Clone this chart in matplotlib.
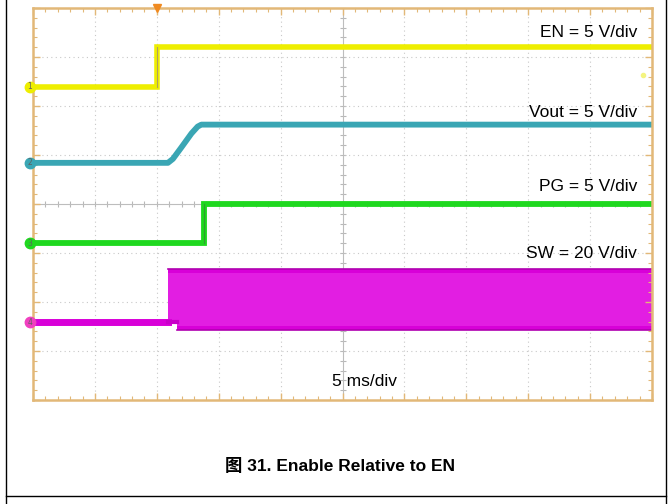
import matplotlib.pyplot as plt
from matplotlib.lines import Line2D
from matplotlib.ticker import MultipleLocator

# time axis in ms (5 ms/div, trigger at t = 0), vertical axis in divisions
t_min, t_max = -10, 40
ms_per_div = 5

# EN channel (5 V/div)
en_t = [-10, 0, 0, 40]
en_v = [0, 0, 4.1, 4.1]
en_offset = 6.39

# Vout channel (5 V/div)
vout_t = [-10, 0.9, 1.3, 2.0, 2.8, 3.3, 3.6, 40]
vout_v = [0, 0, 0.4, 1.6, 3.0, 3.7, 3.9, 3.9]
vout_offset = 4.84

# PG channel (5 V/div)
pg_t = [-10, 3.8, 3.8, 40]
pg_v = [0, 0, 4.0, 4.0]
pg_offset = 3.2

# SW channel (20 V/div), switching envelope
sw_t = [-10, 0.9, 0.9, 1.6, 1.6, 40]
sw_top = [0, 0, 21.6, 21.6, 21.6, 21.6]
sw_bot = [0, 0, 0, 0, -3.2, -3.2]
sw_offset = 1.59

trig_t = 0
trig_level = 1.2  # V on EN

labels = ["EN = 5 V/div", "Vout = 5 V/div", "PG = 5 V/div", "SW = 20 V/div"]
label_y = [7.49, 5.86, 4.35, 3.0]

yellow = '#eeee00'
teal = '#3aa6b4'
green = '#1fd81f'
magenta = '#d800d8'
tan = '#e2b878'

fig = plt.figure(figsize=(6.7, 5.04), dpi=100)
pos = [33 / 670, 104 / 504, 619 / 670, 392 / 504]

# center crosshair ticks (behind the traces)
ax2 = fig.add_axes(pos)
ax2.set_zorder(0)
ax2.set_xlim(t_min, t_max)
ax2.set_ylim(0, 8)
ax2.spines['top'].set_visible(False)
ax2.spines['right'].set_visible(False)
ax2.spines['left'].set_position(('axes', 0.5))
ax2.spines['bottom'].set_position(('axes', 0.5))
ax2.spines['left'].set_visible(False)
ax2.spines['bottom'].set_visible(False)
ax2.xaxis.set_major_locator(MultipleLocator(ms_per_div))
ax2.xaxis.set_minor_locator(MultipleLocator(ms_per_div / 5))
ax2.yaxis.set_major_locator(MultipleLocator(1))
ax2.yaxis.set_minor_locator(MultipleLocator(0.2))
ax2.tick_params(which='both', direction='inout', color='#b8b8b8', length=4, width=0.8,
                labelbottom=False, labelleft=False)

ax = fig.add_axes(pos)
ax.set_zorder(1)
ax.patch.set_alpha(0)
ax.set_xlim(t_min, t_max)
ax.set_ylim(0, 8)

# graticule
for k in range(1, 10):
    if k != 5:
        ax.axvline(t_min + k * ms_per_div, color='#c8c8c8', lw=0.8, ls=(0, (1, 3)), zorder=0)
for k in range(1, 8):
    if k != 4:
        ax.axhline(k, color='#c8c8c8', lw=0.8, ls=(0, (1, 3)), zorder=0)
ax.axvline(t_min + 5 * ms_per_div, color='#bdbdbd', lw=0.8, zorder=0)
ax.axhline(4, color='#bdbdbd', lw=0.8, zorder=0)

ax.xaxis.set_major_locator(MultipleLocator(ms_per_div))
ax.xaxis.set_minor_locator(MultipleLocator(ms_per_div / 5))
ax.yaxis.set_major_locator(MultipleLocator(1))
ax.yaxis.set_minor_locator(MultipleLocator(0.2))
ax.tick_params(which='both', direction='in', color=tan, top=True, right=True,
               labelbottom=False, labelleft=False)
ax.tick_params(which='major', length=5, width=1)
ax.tick_params(which='minor', length=3, width=0.8)
for s in ax.spines.values():
    s.set_color(tan)
    s.set_linewidth(1.8)

# traces
ax.plot(en_t, [en_offset + v / 5 for v in en_v], color=yellow, lw=4, solid_joinstyle='miter')
ax.plot([trig_t, trig_t], [en_offset, en_offset + en_v[-1] / 5], color='#b0a060', lw=0.8)
ax.plot(vout_t, [vout_offset + v / 5 for v in vout_v], color=teal, lw=4.2)
ax.plot(pg_t, [pg_offset + v / 5 for v in pg_v], color=green, lw=4.2, solid_joinstyle='miter')
ax.plot([pg_t[1], pg_t[1]], [pg_offset, pg_offset + pg_v[-1] / 5], color='#30a030', lw=0.8)

sw_hi = [sw_offset + v / 20 for v in sw_top]
sw_lo = [sw_offset + v / 20 for v in sw_bot]
ax.plot(sw_t[:2], sw_hi[:2], color=magenta, lw=5)
ax.fill_between(sw_t[1:], sw_lo[1:], sw_hi[1:], color=magenta, lw=0)
ax.fill_between(sw_t[1:], [y + 0.08 if y < sw_offset - 0.01 else y for y in sw_lo[1:]],
                [y - 0.08 for y in sw_hi[1:]], color='#e21ee2', lw=0)
ax.plot(sw_t[2:], sw_hi[2:], color='#b000b0', lw=1.2)
ax.plot(sw_t[4:], sw_lo[4:], color='#b000b0', lw=1.2)
ax.plot([sw_t[1], sw_t[3]], [sw_offset, sw_offset], color='#c800c8', lw=3)

# channel markers
offsets = [en_offset, vout_offset, pg_offset, sw_offset]
colors = [yellow, teal, green, '#f040c0']
for i, (off, c) in enumerate(zip(offsets, colors)):
    ax.plot(t_min - 0.25, off, 'o', ms=7.5, color=c, clip_on=False, zorder=5)
    ax.text(t_min - 0.25, off, str(i + 1), fontsize=5.5, ha='center', va='center',
            color='#606060', zorder=6)

ax.plot(trig_t, 8, 'v', ms=6, color='#f08a20', clip_on=False, zorder=5)
ax.plot(t_max - 0.7, en_offset + trig_level / 5, 'o', ms=3, color='#f4f480', zorder=5)

for txt, y in zip(labels, label_y):
    ax.text(38.8, y, txt, fontsize=12.5, family='Liberation Sans', ha='right', va='center')
ax.text(16.8, 0.37, "5 ms/div", fontsize=12.5, family='Liberation Sans', ha='center', va='center')

fig.text(340 / 670, 1 - 466 / 504, "图 31. Enable Relative to EN", fontsize=12.5,
         fontweight='bold', family=['Liberation Sans', 'Noto Sans CJK SC'],
         ha='center', va='center')

# outer frame
fig.add_artist(Line2D([5.5 / 670, 5.5 / 670], [0, 1], color='black', lw=1))
fig.add_artist(Line2D([665.5 / 670, 665.5 / 670], [0, 1], color='black', lw=1))
fig.add_artist(Line2D([5.5 / 670, 665.5 / 670], [1 - 496 / 504, 1 - 496 / 504], color='black', lw=1))

plt.savefig('out.png', dpi=100)
plt.close()
